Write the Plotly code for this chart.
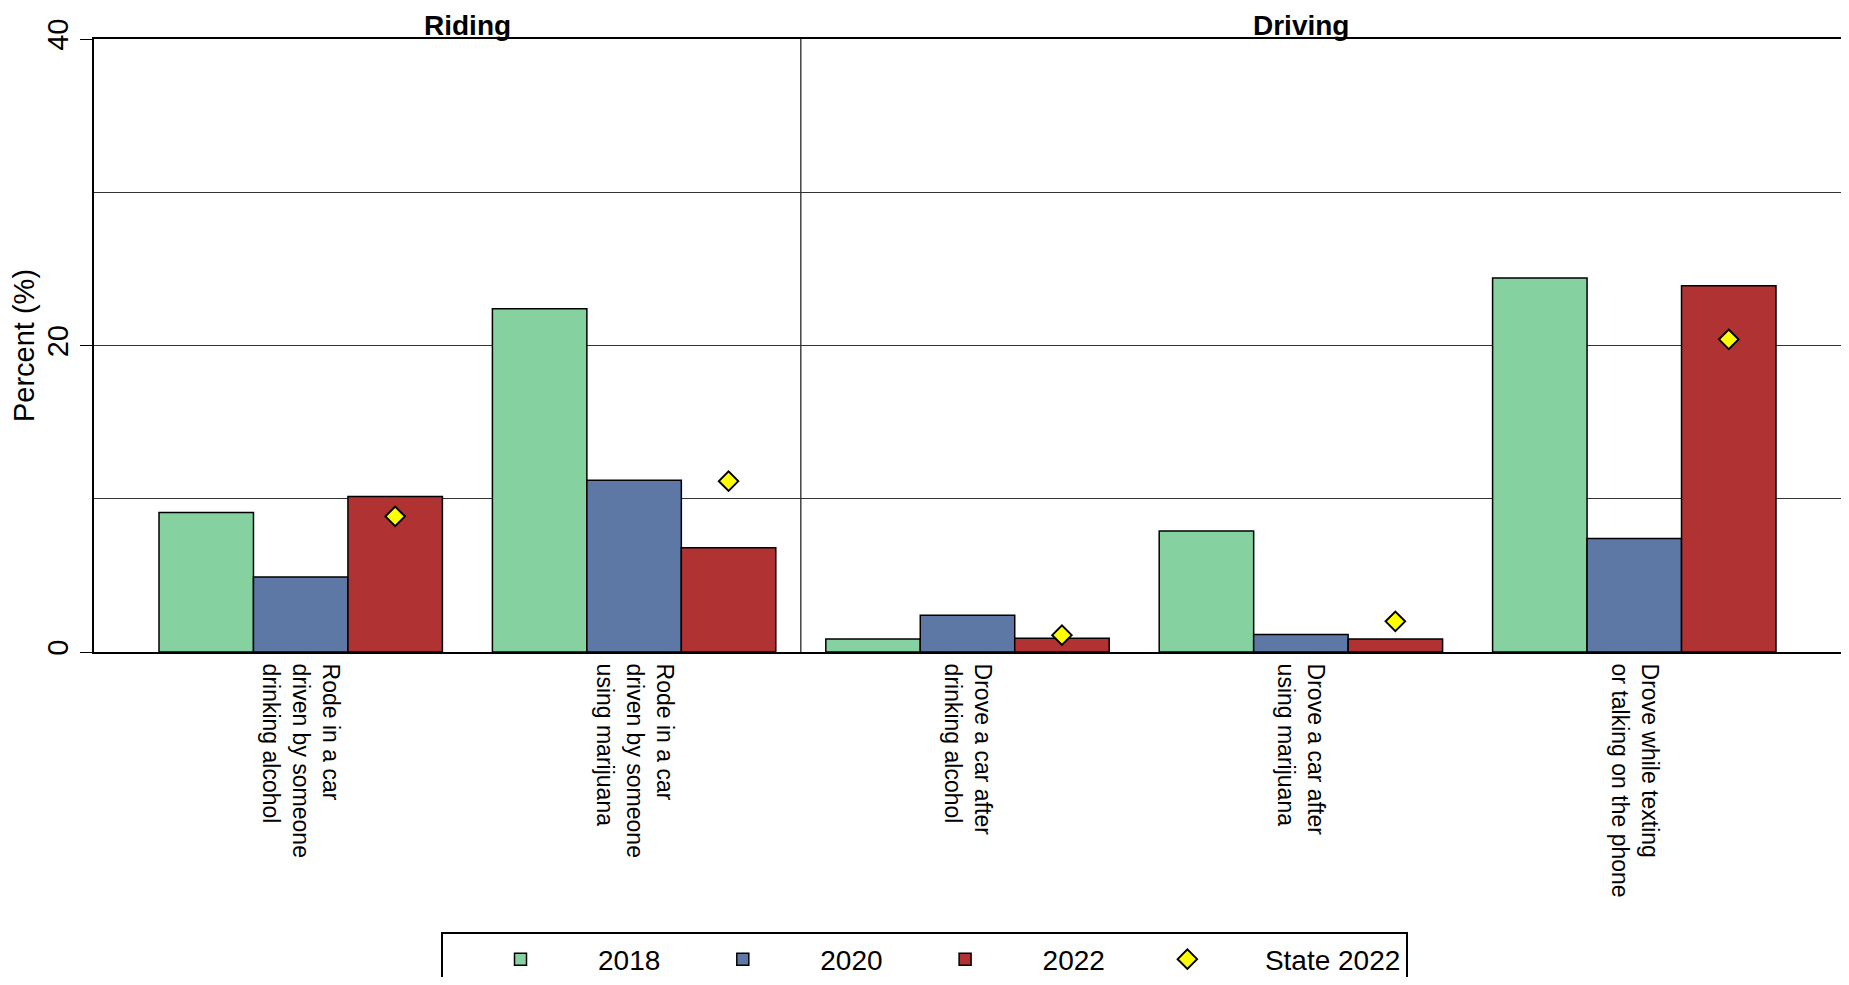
import plotly.graph_objects as go

# ---------------- data ----------------
categories = [
    "Rode in a car<br>driven by someone<br>drinking alcohol",
    "Rode in a car<br>driven by someone<br>using marijuana",
    "Drove a car after<br>drinking alcohol",
    "Drove a car after<br>using marijuana",
    "Drove while texting<br>or talking on the phone",
]
sections = ["Riding", "Riding", "Driving", "Driving", "Driving"]
section_names = ["Riding", "Driving"]
v2018 = [9.1, 22.4, 0.85, 7.9, 24.4]
v2020 = [4.9, 11.2, 2.4, 1.15, 7.4]
v2022 = [10.15, 6.8, 0.9, 0.85, 23.9]
state2022 = [8.85, 11.15, 1.1, 2.0, 20.4]
series_names = ["2018", "2020", "2022"]
y_ticks = [0, 20, 40]

# ---------------- style ----------------
FONT = "Arial, Liberation Sans, sans-serif"
colors = ["#85D2A0", "#5E78A5", "#B03233"]
BARGAP = 0.15
XPAD = 0.12
n = len(categories)
xrange = [-0.5 - XPAD, n - 0.5 + XPAD]
# the State 2022 diamond sits on the 2022 bar: shift an overlay axis by that bar's offset
bar_w = (1 - BARGAP) / len(series_names)
shift = bar_w  # center of third bar relative to category center
xrange2 = [xrange[0] - shift, xrange[1] - shift]
boundaries = [i + 0.5 for i in range(n - 1)]

fig = go.Figure()
for name, vals, col in zip(series_names, [v2018, v2020, v2022], colors):
    fig.add_trace(go.Bar(
        x=categories, y=vals, name=name,
        marker=dict(color=col, line=dict(color="black", width=1.5)),
    ))

fig.add_trace(go.Scatter(
    x=categories, y=state2022, name="State 2022", mode="markers",
    xaxis="x2", yaxis="y",
    marker=dict(symbol="diamond", size=15, color="#FFFF00",
                line=dict(color="black", width=2)),
))

# section divider and headers
riding_idx = [i for i, s in enumerate(sections) if s == "Riding"]
divider = max(riding_idx) + 0.5
fig.add_shape(type="line", xref="x", yref="paper", x0=divider, x1=divider,
              y0=0, y1=1, line=dict(color="#444444", width=1.5), layer="below")
for sec in section_names:
    idx = [i for i, s in enumerate(sections) if s == sec]
    fig.add_annotation(x=sum(idx) / len(idx), xref="x", y=1, yref="paper",
                       yanchor="bottom", showarrow=False, text="<b>%s</b>" % sec,
                       font=dict(family=FONT, size=28, color="black"),
                       borderpad=0, yshift=-3)

fig.update_layout(
    width=1833, height=969,
    margin=dict(l=86, r=0, t=31, b=325),
    paper_bgcolor="white", plot_bgcolor="white",
    barmode="group", bargap=BARGAP, bargroupgap=0,
    font=dict(family=FONT, color="black"),
    xaxis=dict(
        type="category", categoryarray=categories, range=xrange,
        tickangle=90, tickfont=dict(family=FONT, size=23, color="black"),
        ticks="", ticklabelstandoff=5, automargin=False,
        showline=True, linecolor="black", linewidth=2, mirror=True,
        showgrid=False, zeroline=False,
    ),
    xaxis2=dict(
        type="category", categoryarray=categories, range=xrange2,
        overlaying="x", visible=False, showgrid=False, zeroline=False,
        automargin=False,
    ),
    xaxis3=dict(
        type="linear", range=xrange, overlaying="x", anchor="y", side="bottom",
        tickvals=boundaries, ticks="outside", ticklen=12, tickcolor="#444444",
        tickwidth=1.5, showticklabels=False, showline=False, showgrid=False,
        zeroline=False, automargin=False,
    ),
    yaxis=dict(
        range=[0, 40], tickvals=y_ticks, tickangle=-90, automargin=False,
        tickfont=dict(family=FONT, size=29, color="black"),
        ticks="outside", ticklen=12, tickcolor="black",
        showline=True, linecolor="black", linewidth=2, mirror=True,
        showgrid=True, gridcolor="#333333", gridwidth=1, zeroline=False,
        minor=dict(dtick=10, showgrid=True, gridcolor="#333333", gridwidth=1, ticks=""),
        title=dict(text="Percent (%)", font=dict(family=FONT, size=29, color="black"),
                   standoff=4),
    ),
    legend=dict(
        orientation="h", xref="container", x=0.5, xanchor="center",
        yref="container", y=0.046, yanchor="top",
        bordercolor="black", borderwidth=2, bgcolor="white",
        font=dict(family=FONT, size=28, color="black"),
        itemwidth=145, traceorder="normal",
    ),
    showlegend=True,
)

fig.write_html("out.html")
